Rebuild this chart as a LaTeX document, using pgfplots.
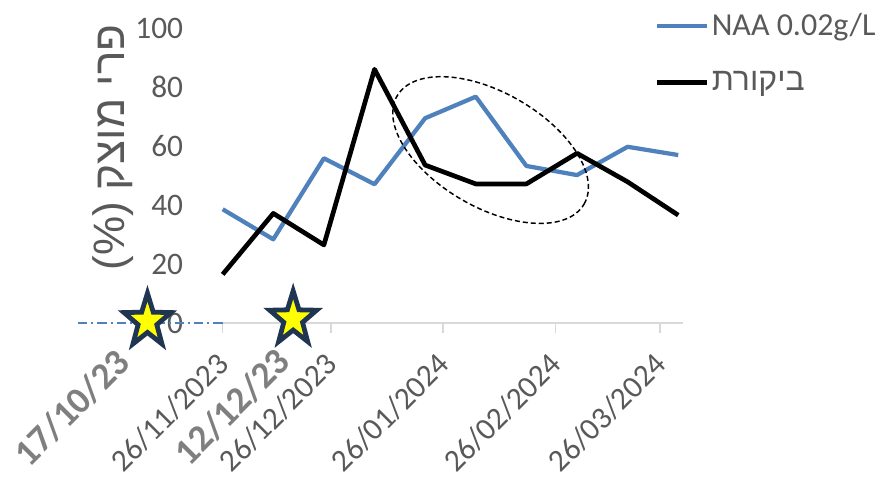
\documentclass[border=0pt]{standalone}
\usepackage{pgfplots}
\pgfplotsset{compat=1.18}
\usepackage{fontspec}
\setmainfont{Carlito}
\newfontfamily\hebfont[Script=Hebrew]{Liberation Sans}
\TeXXeTstate=1
\definecolor{txtgray}{HTML}{595959}
\definecolor{boldgray}{HTML}{7F7F7F}
\definecolor{axgray}{HTML}{D9D9D9}
\definecolor{naablue}{HTML}{4F81BD}
\definecolor{navy}{HTML}{1F3552}
\definecolor{staryellow}{HTML}{FFFF00}
\pgfdeclareplotmark{fstar}{%
  \pgftransformxscale{0.88}%
  \pgfpathmoveto{\pgfpointpolar{90}{21pt}}%
  \pgfpathlineto{\pgfpointpolar{126}{8.4pt}}%
  \pgfpathlineto{\pgfpointpolar{162}{21pt}}%
  \pgfpathlineto{\pgfpointpolar{198}{8.4pt}}%
  \pgfpathlineto{\pgfpointpolar{234}{21pt}}%
  \pgfpathlineto{\pgfpointpolar{270}{8.4pt}}%
  \pgfpathlineto{\pgfpointpolar{306}{21pt}}%
  \pgfpathlineto{\pgfpointpolar{342}{8.4pt}}%
  \pgfpathlineto{\pgfpointpolar{18}{21pt}}%
  \pgfpathlineto{\pgfpointpolar{54}{8.4pt}}%
  \pgfpathclose
  \pgfusepathqfillstroke}
\begin{document}
\begin{tikzpicture}
\begin{axis}[
  at={(0,0)}, anchor=south west, scale only axis,
  width=345.2pt, height=221pt,
  xmin=0, xmax=127.3, ymin=0, ymax=100,
  clip=false,
  axis x line*=bottom, axis y line*=left,
  y axis line style={draw=none},
  x axis line style={draw=axgray, line width=1.2pt},
  ytick={0,20,40,60,80,100},
  ytick style={draw=none},
  yticklabel style={font=\fontsize{23.5}{26}\selectfont, text=txtgray, inner sep=0pt, anchor=east, xshift=-22pt},
  /pgf/number format/assume math mode=true,
  xtick={0,30,61,92,121},
  xticklabels={26/11/2023,26/12/2023,26/01/2024,26/02/2024,26/03/2024},
  xtick style={draw=axgray, line width=1.2pt},
  tick align=outside, major tick length=7.5pt,
  xticklabel style={font=\fontsize{23.5}{26}\selectfont, text=txtgray, inner sep=0pt, anchor=east, xshift=0.5pt, yshift=-19.5pt, rotate=45},
  ylabel={\hebfont\beginR פרי מוצק \beginL(\%)\endL\endR},
  ylabel style={at={(axis description cs:-0.238,0.5955)}, anchor=center, font=\fontsize{33}{37}\selectfont, text=txtgray},
  legend style={at={(rel axis cs:0.939,1.06)}, anchor=north west, draw=none, fill=none,
    font=\fontsize{24}{28}\selectfont, text=txtgray, row sep=21.5pt, inner sep=0pt},
  legend cell align=left,
  legend image code/.code={\draw[#1] (0pt,0pt) -- (37pt,0pt);},
]
\addplot[naablue, line width=3.2pt, line join=round] coordinates {
(0,38.6) (14,28.4) (28,55.9) (42,47.1) (56,69.5) (70,76.8) (84,53.3) (98,50.2) (112,59.8) (126,57.0)};
\addlegendentry{NAA 0.02g/L}
\addplot[black, line width=3.5pt, line join=round] coordinates {
(0,16.5) (14,37.2) (28,26.5) (42,86.1) (56,53.6) (70,47.2) (84,47.2) (98,57.6) (112,47.9) (126,36.6)};
\addlegendentry{{\hebfont\beginR ביקורת\endR}}
\addplot[forget plot, naablue, line width=1.1pt, dash pattern=on 7pt off 3pt on 1.5pt off 3pt] coordinates {(-40,0) (0,0)};
\addplot[forget plot, only marks, mark=fstar, mark options={draw=navy, fill=staryellow, line width=3.6pt}] coordinates {(-20.8,0.6) (19.5,1.4)};
\draw[black, line width=1.1pt, dash pattern=on 3.75pt off 2.25pt] (axis cs:74.1,58.7) ellipse [x radius=81pt, y radius=43pt, rotate=-30];
\node[rotate=45, font=\fontsize{28}{30}\selectfont\bfseries, text=boldgray] at (axis cs:-41.7,-28.8) {17/10/23};
\node[rotate=45, font=\fontsize{28}{30}\selectfont\bfseries, text=boldgray] at (axis cs:2.6,-28.5) {12/12/23};
\end{axis}
\pgfresetboundingbox
\path (-167pt,-114.75pt) rectangle (493pt,242.25pt);
\end{tikzpicture}
\end{document}
